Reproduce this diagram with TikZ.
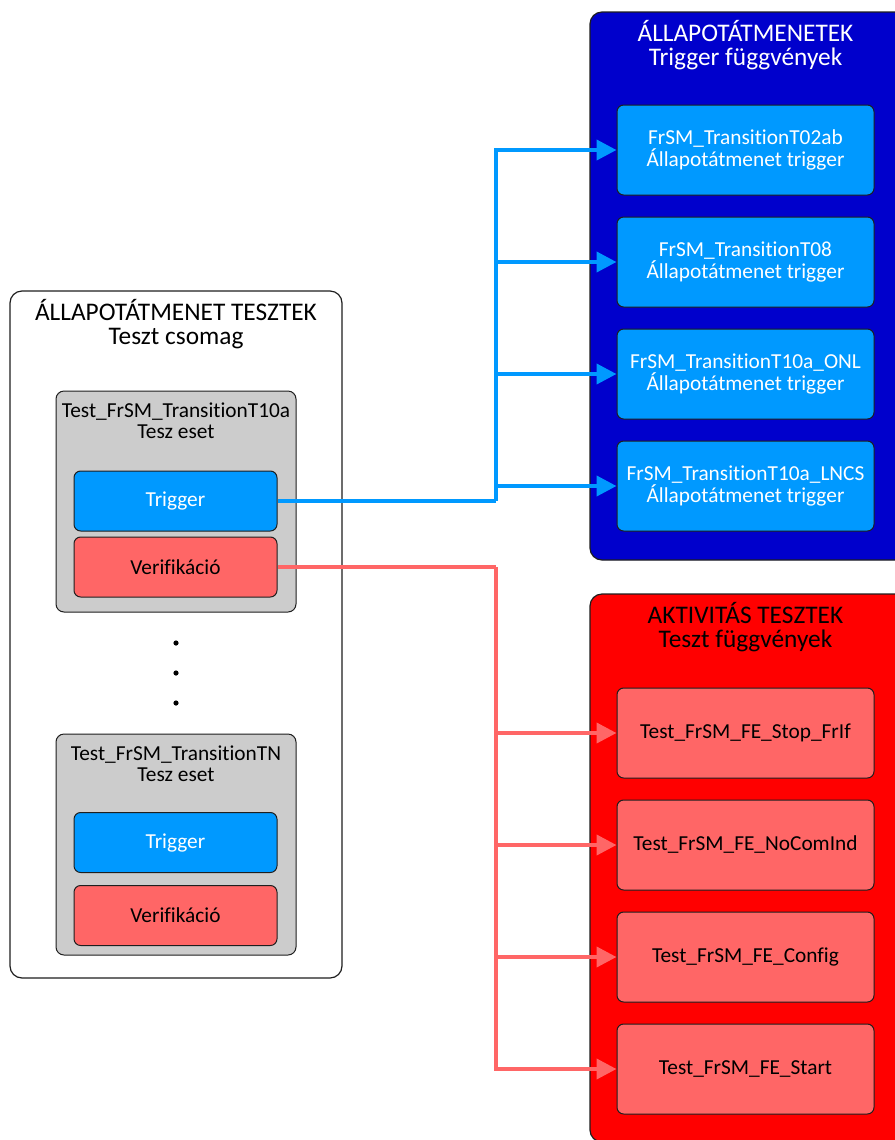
\documentclass[tikz,border=0pt]{standalone}
\usepackage{fontspec}
\setmainfont[Ligatures=NoCommon]{Carlito}
\usetikzlibrary{arrows.meta}
\definecolor{dblue}{RGB}{0,0,204}
\definecolor{lblue}{RGB}{0,153,255}
\definecolor{bred}{RGB}{255,0,0}
\definecolor{salmon}{RGB}{255,102,102}
\definecolor{lgray}{RGB}{204,204,204}
\definecolor{bord}{RGB}{30,30,30}
\tikzset{
  cont/.style={draw=bord, line width=0.9pt, rounded corners=9pt},
  inbox/.style={draw=bord, line width=0.75pt, rounded corners=5pt, minimum width={203*0.75pt}, minimum height={60*0.75pt}, font=\fontsize{16}{16}\selectfont, align=center},
  rbox/.style={draw=bord, line width=0.75pt, rounded corners=5pt, minimum width={257*0.75pt}, minimum height={90*0.75pt}, font=\fontsize{16}{17}\selectfont, align=center},
  ttl/.style={font=\fontsize{19}{18.5}\selectfont, align=center},
  stl/.style={font=\fontsize{16}{16}\selectfont, align=center},
  bline/.style={draw=lblue, line width=3pt},
  rline/.style={draw=salmon, line width=3pt},
  barr/.style={bline, -{Triangle[length=15pt,width=15pt]}},
  rarr/.style={rline, -{Triangle[length=15pt,width=15pt]}},
}
\begin{document}
\begin{tikzpicture}[x=0.75pt,y=-0.75pt]
\useasboundingbox (0,0) rectangle (894,1140);
% left package
\node[cont, fill=white, minimum width={332*0.75pt}, minimum height={687*0.75pt}] (pkg) at (176,634.5) {};
\node[ttl] (pkgt) at (176,324) {ÁLLAPOTÁTMENET TESZTEK\\Teszt csomag};
% case 1
\node[cont, rounded corners=6pt, fill=lgray, line width=0.75pt, minimum width={240*0.75pt}, minimum height={221*0.75pt}] (c1) at (176,501.5) {};
\node[stl] (c1t) at (176,421) {Test\_FrSM\_TransitionT10a\\Tesz eset};
\node[inbox, fill=lblue, text=white] (trig1) at (175.5,501) {Trigger};
\node[inbox, fill=salmon] (ver1) at (175.5,567) {Verifikáció};
% dots
\fill (176,643) circle (2.6);
\fill (176,673) circle (2.6);
\fill (176,703) circle (2.6);
\node[minimum size=0pt, inner sep=0pt] (dots) at (176,673) {};
% case N
\node[cont, rounded corners=6pt, fill=lgray, line width=0.75pt, minimum width={240*0.75pt}, minimum height={221*0.75pt}] (c2) at (176,844.5) {};
\node[stl] (c2t) at (176,764) {Test\_FrSM\_TransitionTN\\Tesz eset};
\node[inbox, fill=lblue, text=white] (trig2) at (175.5,842.5) {Trigger};
\node[inbox, fill=salmon] (ver2) at (175.5,915.5) {Verifikáció};
% blue container
\node[cont, fill=dblue, minimum width={320*0.75pt}, minimum height={548*0.75pt}] (bc) at (750,286) {};
\node[ttl, text=white] (bct) at (745.5,45) {ÁLLAPOTÁTMENETEK\\Trigger függvények};
\node[rbox, fill=lblue, text=white] (t1) at (745.5,150) {FrSM\_TransitionT02ab\\Állapotátmenet trigger};
\node[rbox, fill=lblue, text=white] (t2) at (745.5,262) {FrSM\_TransitionT08\\Állapotátmenet trigger};
\node[rbox, fill=lblue, text=white] (t3) at (745.5,374) {FrSM\_TransitionT10a\_ONL\\Állapotátmenet trigger};
\node[rbox, fill=lblue, text=white] (t4) at (745.5,486) {FrSM\_TransitionT10a\_LNCS\\Állapotátmenet trigger};
% red container
\node[cont, fill=bred, minimum width={320*0.75pt}, minimum height={548*0.75pt}] (rc) at (750,868) {};
\node[ttl] (rct) at (745.5,627) {AKTIVITÁS TESZTEK\\Teszt függvények};
\node[rbox, fill=salmon] (a1) at (745.5,733) {Test\_FrSM\_FE\_Stop\_FrIf};
\node[rbox, fill=salmon] (a2) at (745.5,845) {Test\_FrSM\_FE\_NoComInd};
\node[rbox, fill=salmon] (a3) at (745.5,957) {Test\_FrSM\_FE\_Config};
\node[rbox, fill=salmon] (a4) at (745.5,1069) {Test\_FrSM\_FE\_Start};
% connectors
\coordinate (bj) at (496,501);
\coordinate (rj) at (496,567);
\draw[bline] (trig1.east) -- (bj);
\draw[barr] (bj) |- (t1.west);
\draw[barr] (bj) |- (t2.west);
\draw[barr] (bj) |- (t3.west);
\draw[barr] (bj) |- (t4.west);
\draw[rline] (ver1.east) -- (rj);
\draw[rarr] (rj) |- (a1.west);
\draw[rarr] (rj) |- (a2.west);
\draw[rarr] (rj) |- (a3.west);
\draw[rarr] (rj) |- (a4.west);
\end{tikzpicture}
\end{document}
